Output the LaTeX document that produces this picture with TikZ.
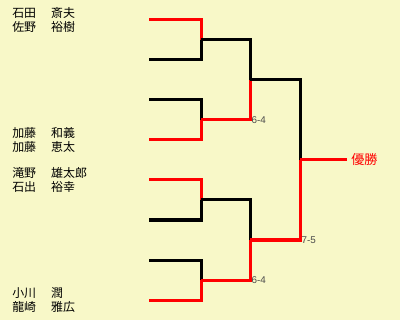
\documentclass[tikz,border=0pt]{standalone}
\usepackage{fontspec}
\newfontfamily\jp{Noto Sans CJK JP}
\setsansfont{Liberation Sans}
\definecolor{bg}{HTML}{F8F8C8}
\definecolor{score}{HTML}{4A4A4A}
\tikzset{
	lose/.style={line width=0.075cm, black, line join=miter},
	win/.style={line width=0.075cm, red, line join=miter},
	player/.style={anchor=west, inner sep=0pt, font=\jp\fontsize{8.5}{9.3}\selectfont},
	result/.style={anchor=west, inner sep=1pt, text=score, font=\sffamily\fontsize{7}{7}\selectfont},
}
\begin{document}
\begin{tikzpicture}[x=0.025cm, y=-0.025cm]
	\fill[bg] (0, 0) rectangle (400, 320);
	\useasboundingbox (0, 0) rectangle (400, 320);

	% names
	\node[player] (g1) at (12, 21.5) {\begin{tabular}{@{}l@{\hspace{0.375cm}}l@{}}石田 & 斎夫\\佐野 & 裕樹\end{tabular}};
	\node[player] (g2) at (12, 141.5) {\begin{tabular}{@{}l@{\hspace{0.375cm}}l@{}}加藤 & 和義\\加藤 & 恵太\end{tabular}};
	\node[player] (g3) at (12, 181.5) {\begin{tabular}{@{}l@{\hspace{0.375cm}}l@{}}滝野 & 雄太郎\\石出 & 裕幸\end{tabular}};
	\node[player] (g4) at (12, 301.5) {\begin{tabular}{@{}l@{\hspace{0.375cm}}l@{}}小川 & 潤\\龍崎 & 雅広\end{tabular}};

	% slots
	\coordinate (s1) at (149, 20);
	\coordinate (s2) at (149, 60);
	\coordinate (s3) at (149, 100);
	\coordinate (s4) at (149, 140);
	\coordinate (s5) at (149, 180);
	\coordinate (s6) at (149, 220);
	\coordinate (s7) at (149, 260);
	\coordinate (s8) at (149, 300);
	\coordinate (a1) at (201, 20);
	\coordinate (a2) at (201, 60);
	\coordinate (a3) at (201, 100);
	\coordinate (a4) at (201, 140);
	\coordinate (a5) at (201, 180);
	\coordinate (a6) at (201, 220);
	\coordinate (a7) at (201, 260);
	\coordinate (a8) at (201, 300);
	\coordinate (r1) at (201, 40);
	\coordinate (r2) at (201, 120);
	\coordinate (r3) at (201, 200);
	\coordinate (r4) at (201, 280);
	\coordinate (b1) at (250, 40);
	\coordinate (b2) at (250, 120);
	\coordinate (b3) at (250, 200);
	\coordinate (b4) at (250, 280);
	\coordinate (q1) at (250, 80);
	\coordinate (q2) at (250, 240);
	\coordinate (c1) at (300, 80);
	\coordinate (c2) at (300, 240);
	\coordinate (f) at (300, 160);
	\coordinate (w) at (347, 160);

	% first round
	\draw[win] (s1) -- (a1) -- (r1);
	\draw[lose] (s2) -- (a2) -- (r1);
	\draw[lose] (s3) -- (a3) -- (r2);
	\draw[win] (s4) -- (a4) -- (r2);
	\draw[win] (s5) -- (a5) -- (r3);
	\draw[lose] (s6) -- (a6) -- (r3);
	\draw[lose] (s7) -- (a7) -- (r4);
	\draw[win] (s8) -- (a8) -- (r4);

	% semi finals
	\draw[lose] (r1) -- (b1) -- (q1);
	\draw[win] (r2) -- (b2) -- (q1);
	\draw[lose] (r3) -- (b3) -- (q2);
	\draw[win] (r4) -- (b4) -- (q2);

	% final
	\draw[lose] (q1) -- (c1) -- (f);
	\draw[win] (q2) -- (c2) -- (f);
	\draw[win] (f) -- (w);

	\node[result] (sc1) at (b2) {6-4};
	\node[result] (sc2) at (b4) {6-4};
	\node[result] (sc3) at (c2) {7-5};
	\node[anchor=west, inner sep=0pt, text=red, font=\jp\fontsize{9.3}{10}\selectfont] (champ) at (351, 160) {優勝};
\end{tikzpicture}
\end{document}
